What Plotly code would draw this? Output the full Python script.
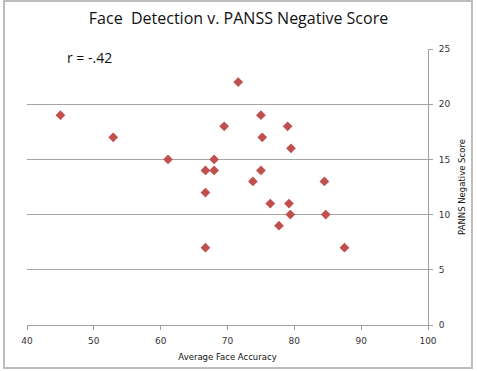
import plotly.graph_objects as go

accuracy = [45.0, 52.9, 61.1, 66.7, 66.7, 66.7, 68.0, 68.0, 69.5, 71.6, 73.8, 75.0,
            75.2, 75.0, 76.4, 77.7, 79.0, 79.5, 79.2, 79.4, 84.5, 84.7, 87.5]
panss_neg = [19, 17, 15, 14, 12, 7, 15, 14, 18, 22, 13, 19,
             17, 14, 11, 9, 18, 16, 11, 10, 13, 10, 7]
x_ticks = [40, 50, 60, 70, 80, 90, 100]
y_ticks = [0, 5, 10, 15, 20, 25]

fig = go.Figure()
fig.add_trace(go.Scatter(
    x=accuracy, y=panss_neg, mode="markers",
    marker=dict(symbol="diamond", size=7.5, color="#c0504d", line=dict(width=0)),
    showlegend=False,
))

tick_font = dict(family="DejaVu Sans", size=9, color="#333333")
fig.update_layout(
    width=477, height=371,
    margin=dict(l=27, r=49, t=49, b=46, autoexpand=False),
    paper_bgcolor="white", plot_bgcolor="white",
    title=dict(text="Face  Detection v. PANSS Negative Score",
               font=dict(family="Open Sans", size=16, color="#111111"),
               x=0.5, xref="container", xanchor="center", y=1 - 18 / 371, yanchor="middle"),
    xaxis=dict(range=[40, 100], tickvals=x_ticks, showgrid=False, zeroline=False,
               showline=True, linecolor="#a0a0a0", linewidth=1,
               ticks="outside", ticklen=4, tickcolor="#a0a0a0",
               tickfont=tick_font, ticklabelstandoff=3, automargin=False,
               title=dict(text="Average Face Accuracy",
                          font=dict(family="DejaVu Sans", size=8.5, color="#111111"),
                          standoff=9)),
    yaxis=dict(range=[0, 25], tickvals=y_ticks, side="right", showgrid=True,
               gridcolor="#a6a6a6", gridwidth=1, zeroline=False,
               showline=True, linecolor="#a0a0a0", linewidth=1,
               ticks="outside", ticklen=4, tickcolor="#a0a0a0",
               tickfont=tick_font, ticklabelstandoff=4, automargin=False,
               title=dict(text="PANNS Negative Score",
                          font=dict(family="DejaVu Sans", size=8.5, color="#111111"),
                          standoff=9)),
    annotations=[dict(text="r = -.42", x=(65 - 27) / 401, y=(325 - 57) / 276,
                      xref="paper", yref="paper", xanchor="left", yanchor="middle",
                      showarrow=False,
                      font=dict(family="Open Sans", size=14, color="#111111"))],
    shapes=[dict(type="rect", xref="paper", yref="paper",
                 x0=(4 - 27) / 401, x1=(472 - 27) / 401,
                 y0=(325 - 368) / 276, y1=(325 - 1) / 276,
                 line=dict(color="#bdbdbd", width=2), layer="below")],
)

fig.write_html("out.html", config={"displayModeBar": False},
               post_script="document.body.style.margin='0';document.body.style.padding='0';")
